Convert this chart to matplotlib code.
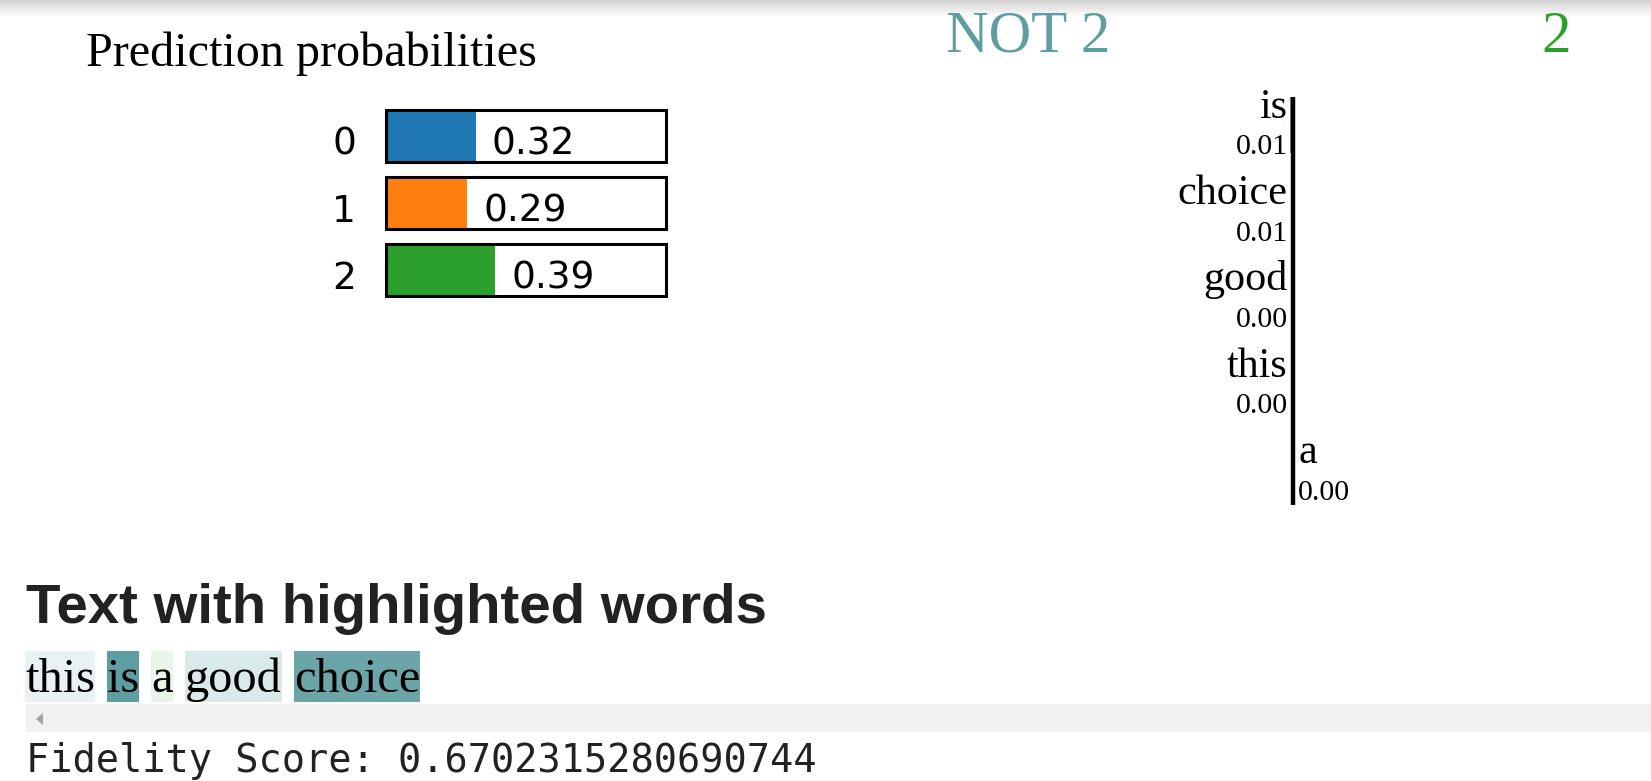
import matplotlib
matplotlib.use("Agg")
from matplotlib import pyplot as plt
from matplotlib.colors import LinearSegmentedColormap, to_rgb
from matplotlib.patches import Polygon, Rectangle
import numpy as np

# prediction probabilities
class_names = ["0", "1", "2"]
class_probs = [0.32, 0.29, 0.39]
class_colors = ["#1f77b4", "#ff7f0e", "#2ca02c"]

# local explanation for label "2" (sorted by |weight|)
explained_label = "2"
feature_names = ["is", "choice", "good", "this", "a"]
feature_weights = [-0.0096, -0.0089, -0.0022, -0.0013, 0.0010]

# the instance, in reading order
text_words = ["this", "is", "a", "good", "choice"]
fidelity_score = 0.6702315280690744

W, H = 1651, 781
NEG_COLOR = "#5F9EA0"
POS_COLOR = "#2ca02c"
SERIF = "Liberation Serif"
TEXT_DARK = "#222222"


def px_axes(fig, left, top, right, bottom):
    return fig.add_axes([left / W, 1 - bottom / H, (right - left) / W, (bottom - top) / H])


def faded(color, alpha):
    rgb = np.array(to_rgb(color))
    return tuple(1 - alpha * (1 - rgb))


fig = plt.figure(figsize=(W / 100, H / 100), dpi=100)
canvas = fig.add_axes([0, 0, 1, 1])
canvas.axis("off")

# browser shadow along the top edge
shade = LinearSegmentedColormap.from_list("shade", ["#d2d2d2", "#ffffff"])
canvas.imshow(np.linspace(0, 1, 32)[:, None], extent=(0, W, 17, 0), cmap=shade, aspect="auto")
canvas.set_xlim(0, W)
canvas.set_ylim(H, 0)

# --- prediction probabilities -------------------------------------------
canvas.text(86, 66, "Prediction probabilities", fontsize=34.7, family=SERIF, va="baseline")

pax = px_axes(fig, 386.4, 102.7, 665.5, 303.7)
pax.axis("off")
ypos = np.arange(len(class_names))
bar_h = 0.78
pax.barh(ypos, [1.0] * len(ypos), height=bar_h, color="white", clip_on=False)
pax.barh(ypos, class_probs, height=bar_h, color=class_colors, clip_on=False)
pax.barh(ypos, [1.0] * len(ypos), height=bar_h, facecolor="none",
         edgecolor="black", linewidth=2.2, clip_on=False)
pax.set_xlim(0, 1)
pax.set_ylim(len(ypos) - 0.5, -0.5)
for i, (name, p) in enumerate(zip(class_names, class_probs)):
    pax.text(-0.152, i + 0.276, name, ha="center", va="baseline",
             fontsize=27, family="DejaVu Sans")
    pax.text(p + 0.057, i + 0.276, f"{p:.2f}", ha="left", va="baseline",
             fontsize=27, family="DejaVu Sans")

# --- feature weights ------------------------------------------------------
canvas.text(1027.7, 51.6, f"NOT {explained_label}", ha="center", va="baseline",
            fontsize=42.5, family=SERIF, color=NEG_COLOR)
canvas.text(1555.7, 51.6, explained_label, ha="center", va="baseline",
            fontsize=42.5, family=SERIF, color=POS_COLOR)

fax = px_axes(fig, 1029, 96.9, 1557, 505.4)
fax.axis("off")
n_feat = len(feature_names)
fpos = np.arange(n_feat)
fcolors = [POS_COLOR if w > 0 else NEG_COLOR for w in feature_weights]
fax.barh(fpos + 0.08, feature_weights, height=0.65, color=fcolors)
fax.axvline(0, color="black", linewidth=3.2)
fax.set_xlim(-1, 1)
fax.set_ylim(4.49, -0.243)
for i, (name, w) in enumerate(zip(feature_names, feature_weights)):
    side = 1 if w > 0 else -1
    ha = "left" if w > 0 else "right"
    fax.text(side * 0.0227, i, name, ha=ha, va="baseline", fontsize=30.3, family=SERIF)
    fax.text(side * 0.0190, i + 0.423, f"{abs(w):.2f}", ha=ha, va="baseline",
             fontsize=21.5, family=SERIF)

# --- text with highlighted words -----------------------------------------
canvas.text(26.3, 623.3, "Text with highlighted words", fontsize=40.6, weight="bold",
            family="Liberation Sans", color=TEXT_DARK, va="baseline")

weight_of = dict(zip(feature_names, feature_weights))
max_w = max(abs(w) for w in feature_weights)
renderer = fig.canvas.get_renderer()
word_size = 34.8
space_px = 0.25 * word_size * 100 / 72
x = 25.0
for word in text_words:
    t = canvas.text(x, 692, word, fontsize=word_size, family=SERIF, va="baseline", zorder=3)
    width = t.get_window_extent(renderer).width
    w = weight_of.get(word, 0.0)
    base = POS_COLOR if w > 0 else NEG_COLOR
    canvas.add_patch(Rectangle((x, 650.7), width, 51.6, color=faded(base, abs(w) / max_w),
                               linewidth=0, zorder=2))
    x += width + space_px

# horizontal scrollbar of the output cell
canvas.add_patch(Rectangle((26.3, 704.4), W - 26.3, 27.4, color="#f1f1f1", linewidth=0))
canvas.add_patch(Polygon([(36, 719), (43, 713), (43, 725)], closed=True, color="#a3a3a3",
                         linewidth=0))

canvas.text(26.3, 771.8, f"Fidelity Score: {fidelity_score}", fontsize=27.8,
            family="DejaVu Sans Mono", color=TEXT_DARK, va="baseline")

fig.savefig("out.png", dpi=100)
plt.close(fig)
